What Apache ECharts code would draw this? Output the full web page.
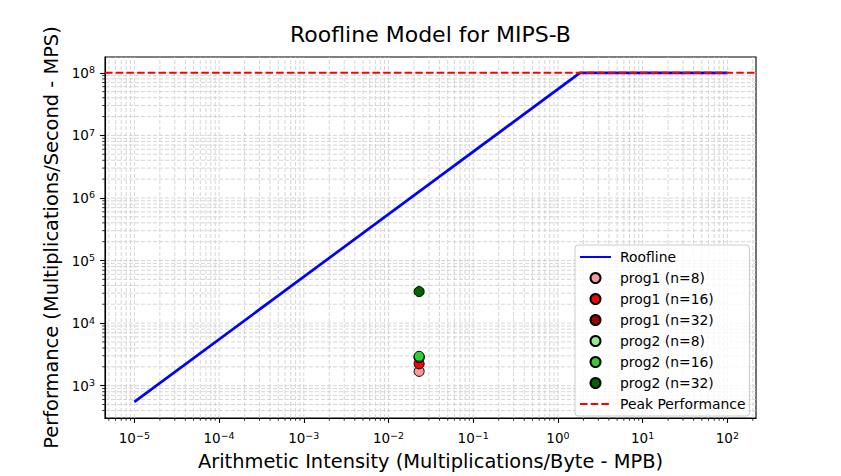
<!DOCTYPE html>
<html><head><meta charset="utf-8">
<script src="https://cdn.jsdelivr.net/npm/echarts@6/dist/echarts.min.js"></script>
<style>html,body{margin:0;padding:0;background:#fff}#c{width:841px;height:476px}</style>
</head><body><div id="c"></div>
<script>
// ---- data ----
const rooflineX = [1e-5, 1.82, 100];
const rooflineY = [550, 1e8, 1e8];
const peakPerf = 1e8;
const pointNames = ['prog1 (n=8)', 'prog1 (n=16)', 'prog1 (n=32)', 'prog2 (n=8)', 'prog2 (n=16)', 'prog2 (n=32)'];
const pointColors = ['#f29b9b', '#ff0000', '#a00000', '#90ee90', '#32cd32', '#006400'];
const pointX = [0.023, 0.023, 0.023, 0.023, 0.023, 0.023];
const pointY = [1690, 2230, 2800, 2850, 2950, 31900];
const xTickExps = [-5, -4, -3, -2, -1, 0, 1, 2];
const yTickExps = [3, 4, 5, 6, 7, 8];
const xRange = [4.5e-6, 218];
const yRange = [304, 1.79e8];

const FONT = 'DejaVu Sans';
const xTickVals = xTickExps.map(e => Math.pow(10, e));
const yTickVals = yTickExps.map(e => Math.pow(10, e));

function fmt(v) {
  const l = Math.log10(v), e = Math.round(l);
  if (Math.abs(l - e) > 1e-6) return '';
  return '{b|10}{s|' + (e < 0 ? '\u2212' + (-e) : String(e)) + '}';
}
const rich = {
  b: {fontSize: 13.5, fontFamily: FONT, color: '#000', lineHeight: 16},
  s: {fontSize: 9.5, fontFamily: FONT, color: '#000', lineHeight: 10, verticalAlign: 'top'}
};

// grid lines (major + minor, matplotlib which='both') and minor ticks
const gridItems = [];
for (let e = -6; e <= 2; e++) for (let k = 1; k <= 9; k++) {
  const v = k * Math.pow(10, e);
  if (v >= xRange[0] && v <= xRange[1]) gridItems.push([v, yRange[0], 0, k === 1 ? 1 : 0]);
}
for (let e = 2; e <= 8; e++) for (let k = 1; k <= 9; k++) {
  const v = k * Math.pow(10, e);
  if (v >= yRange[0] && v <= yRange[1]) gridItems.push([xRange[0], v, 1, k === 1 ? 1 : 0]);
}

const series = [];
series.push({
  type: 'custom', name: '_grid', silent: true, z: 0,
  data: gridItems,
  renderItem: function (params, api) {
    const dir = api.value(2), major = api.value(3);
    const ch = [];
    const gs = {stroke: '#cbcbcb', lineWidth: 0.8, lineDash: [4, 2], fill: null};
    if (dir === 0) {
      const v = api.value(0);
      const a = api.coord([v, yRange[0]]), b = api.coord([v, yRange[1]]);
      ch.push({type: 'line', shape: {x1: a[0], y1: a[1], x2: b[0], y2: b[1]}, style: gs});
      if (!major) ch.push({type: 'line', shape: {x1: a[0], y1: a[1], x2: a[0], y2: a[1] + 2.8}, style: {stroke: '#000', lineWidth: 0.8}});
    } else {
      const v = api.value(1);
      const a = api.coord([xRange[0], v]), b = api.coord([xRange[1], v]);
      ch.push({type: 'line', shape: {x1: a[0], y1: a[1], x2: b[0], y2: b[1]}, style: gs});
      if (!major) ch.push({type: 'line', shape: {x1: a[0], y1: a[1], x2: a[0] - 2.8, y2: a[1]}, style: {stroke: '#000', lineWidth: 0.8}});
    }
    return {type: 'group', children: ch};
  }
});
series.push({
  type: 'line', name: 'Roofline', z: 2,
  data: rooflineX.map((x, i) => [x, rooflineY[i]]),
  showSymbol: false, symbol: 'none',
  lineStyle: {color: '#0000ff', width: 2.7},
  itemStyle: {color: '#0000ff'}
});
series.push({
  type: 'line', name: 'Peak Performance', z: 3,
  data: [[xRange[0], peakPerf], [xRange[1], peakPerf]],
  showSymbol: false, symbol: 'none',
  lineStyle: {color: '#ff0000', width: 2, type: [7.5, 3.2]},
  itemStyle: {color: '#ff0000'}
});
pointNames.forEach((n, i) => {
  series.push({
    type: 'scatter', name: n, z: 4 + i,
    data: [[pointX[i], pointY[i]]],
    symbolSize: 10,
    itemStyle: {color: pointColors[i], borderColor: '#000', borderWidth: 1, opacity: 1}
  });
});

const chart = echarts.init(document.getElementById('c'), null, {renderer: 'svg'});
chart.setOption({
  animation: false,
  backgroundColor: '#fff',
  title: {
    text: 'Roofline Model for MIPS-B', left: 430.5, top: 23, textAlign: 'center', padding: 0,
    textStyle: {fontSize: 22, fontWeight: 'normal', color: '#000', fontFamily: FONT}
  },
  grid: {left: 105, right: 85, top: 57, bottom: 52.5, show: true, borderColor: '#000', borderWidth: 1.1, backgroundColor: 'transparent', containLabel: false},
  xAxis: {
    type: 'log', logBase: 10, min: xRange[0], max: xRange[1],
    name: 'Arithmetic Intensity (Multiplications/Byte - MPB)', nameLocation: 'middle', nameGap: 34,
    nameTextStyle: {fontSize: 19.4, color: '#000', fontFamily: FONT},
    axisLine: {show: true, lineStyle: {color: '#000', width: 1.1}},
    axisTick: {show: true, customValues: xTickVals, length: 4.9, lineStyle: {color: '#000', width: 1.1}},
    axisLabel: {show: true, customValues: xTickVals, formatter: fmt, rich: rich, margin: 12},
    splitLine: {show: false}, minorTick: {show: false}, minorSplitLine: {show: false}
  },
  yAxis: {
    type: 'log', logBase: 10, min: yRange[0], max: yRange[1],
    name: 'Performance (Multiplications/Second - MPS)', nameLocation: 'middle', nameGap: 41,
    nameTextStyle: {fontSize: 19.4, color: '#000', fontFamily: FONT},
    axisLine: {show: true, lineStyle: {color: '#000', width: 1.1}},
    axisTick: {show: true, customValues: yTickVals, length: 4.9, lineStyle: {color: '#000', width: 1.1}},
    axisLabel: {show: true, customValues: yTickVals, formatter: fmt, rich: rich, margin: 10},
    splitLine: {show: false}, minorTick: {show: false}, minorSplitLine: {show: false}
  },
  legend: {
    orient: 'vertical', left: 575, top: 245,
    data: [{name: 'Roofline', itemStyle: {opacity: 0}}]
      .concat(pointNames.map(n => ({name: n, icon: 'circle'})))
      .concat([{name: 'Peak Performance', itemStyle: {opacity: 0}}]),
    itemWidth: 31, itemHeight: 10, itemGap: 7,
    padding: [5, 4, 5, 4],
    textStyle: {fontSize: 13.9, color: '#000', lineHeight: 14, fontFamily: FONT, padding: [0, 0, 0, 4]},
    backgroundColor: 'rgba(255,255,255,0.8)', borderColor: '#cccccc', borderWidth: 1, borderRadius: 3,
    selectedMode: false
  },
  series: series
});
</script>
</body></html>
